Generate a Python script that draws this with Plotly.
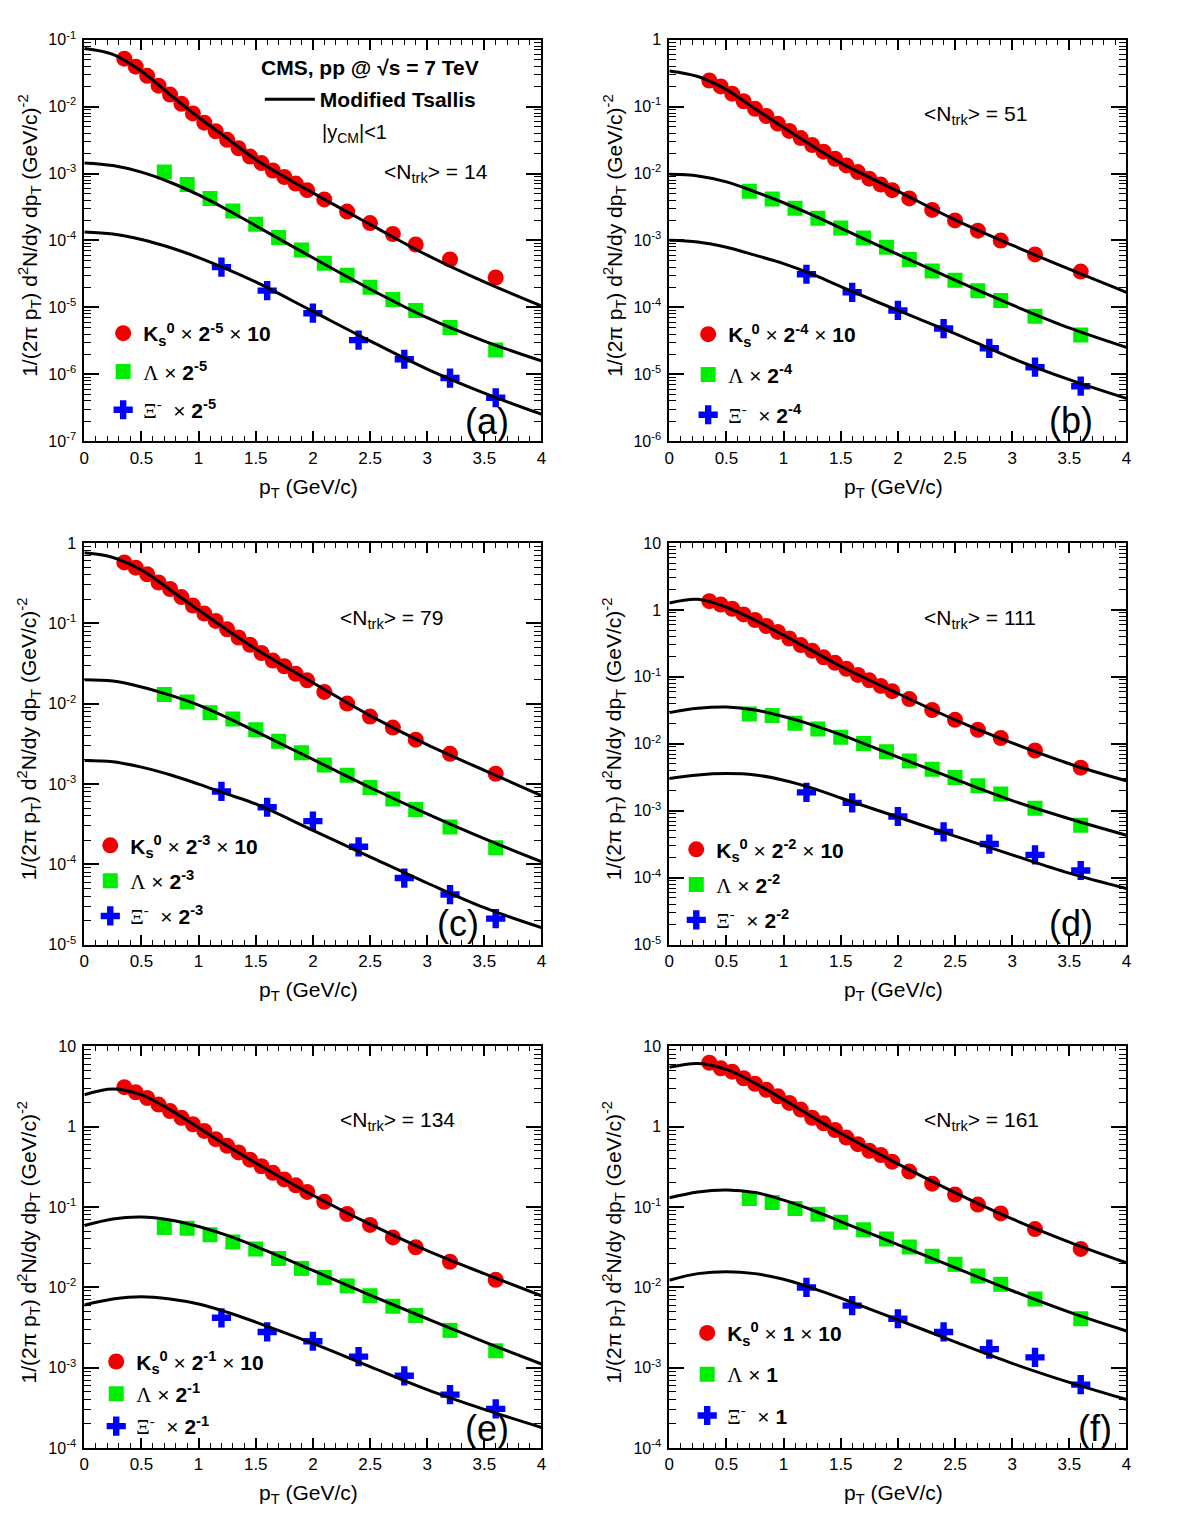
import plotly.graph_objects as go

# ---------------- data ----------------
pt_K = [0.35, 0.45, 0.55, 0.65, 0.75, 0.85, 0.95, 1.05, 1.15, 1.25, 1.35, 1.45,
        1.55, 1.65, 1.75, 1.85, 1.95, 2.1, 2.3, 2.5, 2.7, 2.9, 3.2, 3.6]
pt_L = [0.7, 0.9, 1.1, 1.3, 1.5, 1.7, 1.9, 2.1, 2.3, 2.5, 2.7, 2.9, 3.2, 3.6]
pt_X = [1.2, 1.6, 2.0, 2.4, 2.8, 3.2, 3.6]
pt_fit = [0, 0.25, 0.5, 0.75, 1.0, 1.25, 1.5, 2.0, 2.5, 3.0, 3.5, 4.0]

# panel (a)  <Ntrk> = 14
K_a = [0.052, 0.0394, 0.0288, 0.0205, 0.0151, 0.011, 0.0079, 0.00575, 0.00428, 0.00319, 0.00238, 0.00179,
       0.00143, 0.00111, 0.000887, 0.000708, 0.000564, 0.00041, 0.00027, 0.000182, 0.000125, 8.7e-5, 5.2e-5, 2.8e-5]
L_a = [1.05e-3, 6.84e-4, 4.25e-4, 2.76e-4, 1.75e-4, 1.11e-4, 7.2e-5, 4.55e-5, 3.03e-5, 2.0e-5, 1.31e-5, 9.0e-6, 5.0e-6, 2.31e-6]
X_a = [4.0e-5, 1.78e-5, 8.2e-6, 3.25e-6, 1.68e-6, 8.8e-7, 4.47e-7]
fitK_a = [7.36e-2, 6.01e-2, 3.37e-2, 1.51e-2, 6.92e-3, 3.35e-3, 1.62e-3, 5.13e-4, 1.74e-4, 6.03e-5, 2.40e-5, 1.05e-5]
fitL_a = [1.44e-3, 1.315e-3, 1.047e-3, 7.41e-4, 4.79e-4, 2.88e-4, 1.66e-4, 5.52e-5, 1.88e-5, 7.02e-6, 3.14e-6, 1.59e-6]
fitX_a = [1.34e-4, 1.245e-4, 1.035e-4, 7.85e-5, 5.56e-5, 3.72e-5, 2.40e-5, 8.71e-6, 3.16e-6, 1.20e-6, 5.25e-7, 2.54e-7]

# panel (b)  <Ntrk> = 51
K_b = [0.245, 0.2, 0.156, 0.12, 0.0926, 0.0722, 0.0556, 0.0433, 0.0338, 0.0266, 0.0212, 0.0166,
       0.0132, 0.0105, 0.00838, 0.00684, 0.00564, 0.00425, 0.00286, 0.00199, 0.0014, 0.000995, 0.000618, 0.000343]
L_b = [5.45e-3, 4.15e-3, 3.02e-3, 2.15e-3, 1.53e-3, 1.09e-3, 7.94e-4, 5.21e-4, 3.51e-4, 2.55e-4, 1.78e-4, 1.27e-4, 7.35e-5, 3.86e-5]
X_b = [3.13e-4, 1.68e-4, 9.0e-5, 4.83e-5, 2.45e-5, 1.28e-5, 6.65e-6]
fitK_b = [0.341, 0.281, 0.179, 0.0926, 0.0485, 0.026, 0.0144, 5.44e-3, 2.03e-3, 8.5e-4, 3.72e-4, 1.68e-4]
fitL_b = [9.71e-3, 9.18e-3, 7.49e-3, 5.33e-3, 3.66e-3, 2.41e-3, 1.53e-3, 6.18e-4, 2.55e-4, 1.09e-4, 4.94e-5, 2.53e-5]
fitX_b = [1.01e-3, 9.51e-4, 7.94e-4, 6.04e-4, 4.51e-4, 3.13e-4, 2.04e-4, 9.01e-5, 4.07e-5, 1.74e-5, 8.34e-6, 4.37e-6]

# panel (c)  <Ntrk> = 79
K_c = [0.573, 0.492, 0.408, 0.322, 0.267, 0.212, 0.166, 0.132, 0.107, 0.0842, 0.0665, 0.054,
       0.0427, 0.0343, 0.0292, 0.0235, 0.0195, 0.014, 0.01, 0.00689, 0.00504, 0.00356, 0.00237, 0.00134]
L_c = [0.013, 0.0105, 0.00772, 0.00645, 0.00472, 0.0034, 0.00244, 0.00172, 0.00128, 9.04e-4, 6.5e-4, 4.8e-4, 2.91e-4, 1.61e-4]
X_c = [8.07e-4, 5.13e-4, 3.45e-4, 1.65e-4, 6.74e-5, 4.2e-5, 2.11e-5]
fitK_c = [0.753, 0.660, 0.461, 0.262, 0.146, 0.0826, 0.0478, 0.0182, 7.10e-3, 3.09e-3, 1.48e-3, 7.14e-4]
fitL_c = [0.01986, 0.0191, 0.01614, 0.01274, 9.59e-3, 6.70e-3, 4.51e-3, 2.02e-3, 9.04e-4, 4.25e-4, 2.09e-4, 1.08e-4]
fitX_c = [1.96e-3, 1.89e-3, 1.62e-3, 1.30e-3, 9.95e-4, 7.48e-4, 5.64e-4, 2.65e-4, 1.24e-4, 5.85e-5, 2.88e-5, 1.63e-5]

# panel (d)  <Ntrk> = 111
K_d = [1.35, 1.2, 1.04, 0.855, 0.706, 0.575, 0.469, 0.374, 0.298, 0.246, 0.196, 0.162,
       0.132, 0.107, 0.0887, 0.0731, 0.061, 0.0465, 0.032, 0.0228, 0.0162, 0.0122, 0.00794, 0.0044]
L_d = [0.0279, 0.0264, 0.0203, 0.0166, 0.0125, 0.0101, 0.00759, 0.00552, 0.00416, 0.00313, 0.00236, 0.00178, 0.00109, 6.05e-4]
X_d = [1.88e-3, 1.31e-3, 8.2e-4, 4.83e-4, 3.18e-4, 2.19e-4, 1.28e-4]
fitK_d = [1.27, 1.44, 1.096, 0.705, 0.419, 0.246, 0.144, 0.0564, 0.0228, 0.0103, 5.04e-3, 2.80e-3]
fitL_d = [0.0292, 0.0339, 0.0354, 0.0320, 0.0255, 0.0192, 0.0137, 6.33e-3, 2.96e-3, 1.42e-3, 7.60e-4, 4.31e-4]
fitX_d = [3.03e-3, 3.43e-3, 3.59e-3, 3.43e-3, 2.86e-3, 2.18e-3, 1.55e-3, 8.05e-4, 4.17e-4, 2.19e-4, 1.17e-4, 6.89e-5]

# panel (e)  <Ntrk> = 134
K_e = [3.1, 2.67, 2.27, 1.88, 1.56, 1.29, 1.07, 0.883, 0.697, 0.577, 0.478, 0.388,
       0.321, 0.266, 0.22, 0.186, 0.154, 0.116, 0.0817, 0.0598, 0.0418, 0.0315, 0.0208, 0.0124]
L_e = [0.0555, 0.0544, 0.0451, 0.0366, 0.03, 0.0228, 0.0172, 0.0132, 0.0104, 0.00785, 0.00581, 0.00446, 0.00291, 0.00162]
X_e = [4.17e-3, 2.78e-3, 2.13e-3, 1.37e-3, 7.91e-4, 4.61e-4, 3.07e-4]
fitK_e = [2.49, 2.93, 2.49, 1.63, 0.970, 0.577, 0.353, 0.140, 0.0610, 0.0286, 0.01479, 7.85e-3]
fitL_e = [0.0587, 0.0710, 0.0750, 0.0689, 0.0570, 0.0442, 0.0324, 0.01625, 8.00e-3, 4.06e-3, 2.09e-3, 1.11e-3]
fitX_e = [6.03e-3, 7.14e-3, 7.64e-3, 7.14e-3, 6.19e-3, 4.89e-3, 3.69e-3, 2.00e-3, 1.03e-3, 5.32e-4, 3.02e-4, 1.80e-4]

# panel (f)  <Ntrk> = 161
K_f = [6.24, 5.31, 4.83, 4.0, 3.41, 2.87, 2.38, 1.97, 1.63, 1.29, 1.1, 0.908,
       0.731, 0.605, 0.501, 0.443, 0.366, 0.276, 0.195, 0.143, 0.107, 0.0832, 0.053, 0.03]
L_f = [0.127, 0.114, 0.096, 0.081, 0.0645, 0.0519, 0.0398, 0.0318, 0.0244, 0.0193, 0.0138, 0.0109, 0.00715, 0.00405]
X_f = [9.95e-3, 5.92e-3, 4.06e-3, 2.78e-3, 1.7e-3, 1.34e-3, 6.14e-4]
fitK_f = [5.47, 6.12, 5.16, 3.47, 2.17, 1.33, 0.826, 0.344, 0.151, 0.0710, 0.0366, 0.0202]
fitL_f = [0.130, 0.154, 0.163, 0.151, 0.1216, 0.0917, 0.0658, 0.0340, 0.01754, 9.06e-3, 4.90e-3, 2.86e-3]
fitX_f = [0.01225, 0.01479, 0.01564, 0.01479, 0.01259, 9.77e-3, 7.35e-3, 3.94e-3, 2.09e-3, 1.13e-3, 6.55e-4, 4.01e-4]

panel_letters = ["(a)", "(b)", "(c)", "(d)", "(e)", "(f)"]
ntrk_values = [14, 51, 79, 111, 134, 161]
scale_labels = ["2<sup>-5</sup>", "2<sup>-4</sup>", "2<sup>-3</sup>", "2<sup>-2</sup>", "2<sup>-1</sup>", "1"]
y_decades = [(-7, -1), (-6, 0), (-5, 0), (-5, 1), (-4, 1), (-4, 1)]

# ---------------- geometry (page pixels) ----------------
W, H = 1182, 1530
cols = [(80, 541), (670, 1131)]
rows = [(29, 436), (539, 946), (1049, 1456)]

RED, GREEN, BLUE = "#f00000", "#00ee00", "#0000ff"
FONT = "Liberation Sans"
SERIF = "Liberation Serif"

data_sets = [
    (K_a, L_a, X_a, fitK_a, fitL_a, fitX_a),
    (K_b, L_b, X_b, fitK_b, fitL_b, fitX_b),
    (K_c, L_c, X_c, fitK_c, fitL_c, fitX_c),
    (K_d, L_d, X_d, fitK_d, fitL_d, fitX_d),
    (K_e, L_e, X_e, fitK_e, fitL_e, fitX_e),
    (K_f, L_f, X_f, fitK_f, fitL_f, fitX_f),
]

# legend placement: (marker centre x, first-item centre y, group gap)
legend_pos = [(119, 326, 8), (709, 327, 10), (106, 845, 5), (697, 849, 5), (112, 1368, 2), (708, 1339, 11)]
ntrk_pos = [(380, 161), (925, 102), (336, 613), (925, 613), (336, 1122), (925, 1122)]
letter_pos = [(486, 416), (1075, 415), (457, 925), (1075, 925), (486, 1436), (1099, 1436)]


def fx(x):
    return x / W


def fy(y):
    return 1 - y / H


fig = go.Figure()
layout = dict(width=W, height=H, margin=dict(l=0, r=0, t=0, b=0),
              paper_bgcolor="white", plot_bgcolor="white", showlegend=True,
              font=dict(family=FONT, color="black"))
annotations = []

for i in range(6):
    r, c = divmod(i, 2)
    sfx = "" if i == 0 else str(i + 1)
    xa, ya = "x" + sfx, "y" + sfx
    lo, hi = y_decades[i]
    tv = [10.0 ** e for e in range(lo, hi + 1)]
    tt = ["1" if e == 0 else ("10" if e == 1 else "10<sup>%d</sup>" % e) for e in range(lo, hi + 1)]
    mv = [k * 10.0 ** e for e in range(lo, hi) for k in range(2, 10)]
    layout["xaxis" + sfx] = dict(
        domain=[fx(cols[c][0]), fx(cols[c][1])], range=[0, 4], anchor=ya,
        showline=True, linecolor="black", linewidth=2, mirror="ticks",
        ticks="inside", ticklen=10, tickwidth=1.5, tickcolor="black",
        tick0=0, dtick=0.5, showgrid=False, zeroline=False,
        tickfont=dict(size=17, family=FONT, color="black"),
        minor=dict(ticks="inside", ticklen=5, tickwidth=1.2, tickcolor="black", dtick=0.1, showgrid=False))
    layout["yaxis" + sfx] = dict(
        domain=[fy(rows[r][1]), fy(rows[r][0])], type="log", range=[lo, hi], anchor=xa,
        showline=True, linecolor="black", linewidth=2, mirror="ticks",
        ticks="inside", ticklen=15, tickwidth=1.5, tickcolor="black",
        tickmode="array", tickvals=tv, ticktext=tt, showgrid=False, zeroline=False,
        ticklabelstandoff=3,
        tickfont=dict(size=16, family=FONT, color="black"),
        minor=dict(ticks="inside", ticklen=7, tickwidth=1.2, tickcolor="black",
                   tickmode="array", tickvals=mv, showgrid=False))

    K, L, X, fK, fL, fX = data_sets[i]
    leg = "legend" + sfx
    sc = scale_labels[i]
    kname = "<b>K<sub>s</sub><sup>0</sup></b> × <b>%s</b> × <b>10</b>" % sc
    lname = "<span style='font-family:%s'>Λ</span> × <b>%s</b>" % (SERIF, sc)
    xname = "<span style='font-family:%s'>Ξ<sup>-</sup></span>  × <b>%s</b>" % (SERIF, sc)
    fig.add_trace(go.Scatter(x=pt_K, y=K, mode="markers", xaxis=xa, yaxis=ya, name=kname,
                             legend=leg, legendgroup="K%d" % i,
                             marker=dict(symbol="circle", size=16, color=RED)))
    fig.add_trace(go.Scatter(x=pt_L, y=L, mode="markers", xaxis=xa, yaxis=ya, name=lname,
                             legend=leg, legendgroup="L%d" % i,
                             marker=dict(symbol="square", size=15, color=GREEN)))
    fig.add_trace(go.Scatter(x=pt_X, y=X, mode="markers", xaxis=xa, yaxis=ya, name=xname,
                             legend=leg, legendgroup="X%d" % i,
                             marker=dict(symbol="cross", size=16, color=BLUE)))
    for j, fv in enumerate((fK, fL, fX)):
        show = (i == 0 and j == 0)
        fig.add_trace(go.Scatter(x=pt_fit, y=fv, mode="lines", xaxis=xa, yaxis=ya,
                                 line=dict(color="black", width=3, shape="spline", smoothing=1.0),
                                 name="<b>Modified Tsallis</b>", showlegend=show,
                                 legend="legend7", legendgroup="fit"))

    mx, my, gap = legend_pos[i]
    layout[leg] = dict(x=fx(mx - 20), y=fy(my - 20), xanchor="left", yanchor="top",
                       bgcolor="rgba(0,0,0,0)", borderwidth=0, traceorder="grouped",
                       tracegroupgap=gap, font=dict(size=21, family=FONT, color="black"),
                       itemsizing="trace")

    # axis titles
    dx, dy = c * 590, r * 510
    annotations.append(dict(xref="paper", yref="paper", x=fx(306 + dx), y=fy(483 + dy),
                            text="p<sub>T</sub> (GeV/c)", showarrow=False,
                            xanchor="center", yanchor="middle", font=dict(size=21, family=FONT)))
    annotations.append(dict(xref="paper", yref="paper", x=fx(24 + dx), y=fy(228 + dy),
                            text="1/(2π p<sub>T</sub>) d<sup>2</sup>N/dy dp<sub>T</sub> (GeV/c)<sup>-2</sup>",
                            showarrow=False, textangle=-90,
                            xanchor="center", yanchor="middle", font=dict(size=21, family=FONT)))
    nx, ny = ntrk_pos[i]
    annotations.append(dict(xref="paper", yref="paper", x=fx(nx), y=fy(ny + 3),
                            text="&lt;N<sub>trk</sub>&gt; = %d" % ntrk_values[i], showarrow=False,
                            xanchor="left", yanchor="middle", font=dict(size=21, family=FONT)))
    lx, ly = letter_pos[i]
    annotations.append(dict(xref="paper", yref="paper", x=fx(lx), y=fy(ly),
                            text=panel_letters[i], showarrow=False,
                            xanchor="center", yanchor="middle", font=dict(size=36, family=FONT)))

# panel (a) header texts
annotations.append(dict(xref="paper", yref="paper", x=fx(256), y=fy(57),
                        text="<b>CMS, pp @ √s = 7 TeV</b>", showarrow=False,
                        xanchor="left", yanchor="middle", font=dict(size=21, family=FONT)))
annotations.append(dict(xref="paper", yref="paper", x=fx(318), y=fy(124),
                        text="|y<sub>CM</sub>|&lt;1", showarrow=False,
                        xanchor="left", yanchor="middle", font=dict(size=20, family=FONT)))
layout["legend7"] = dict(x=fx(257), y=fy(89 - 20), xanchor="left", yanchor="top",
                         bgcolor="rgba(0,0,0,0)", borderwidth=0, itemwidth=50,
                         font=dict(size=21, family=FONT, color="black"))

layout["annotations"] = annotations
fig.update_layout(**layout)
fig.write_html("out.html")
